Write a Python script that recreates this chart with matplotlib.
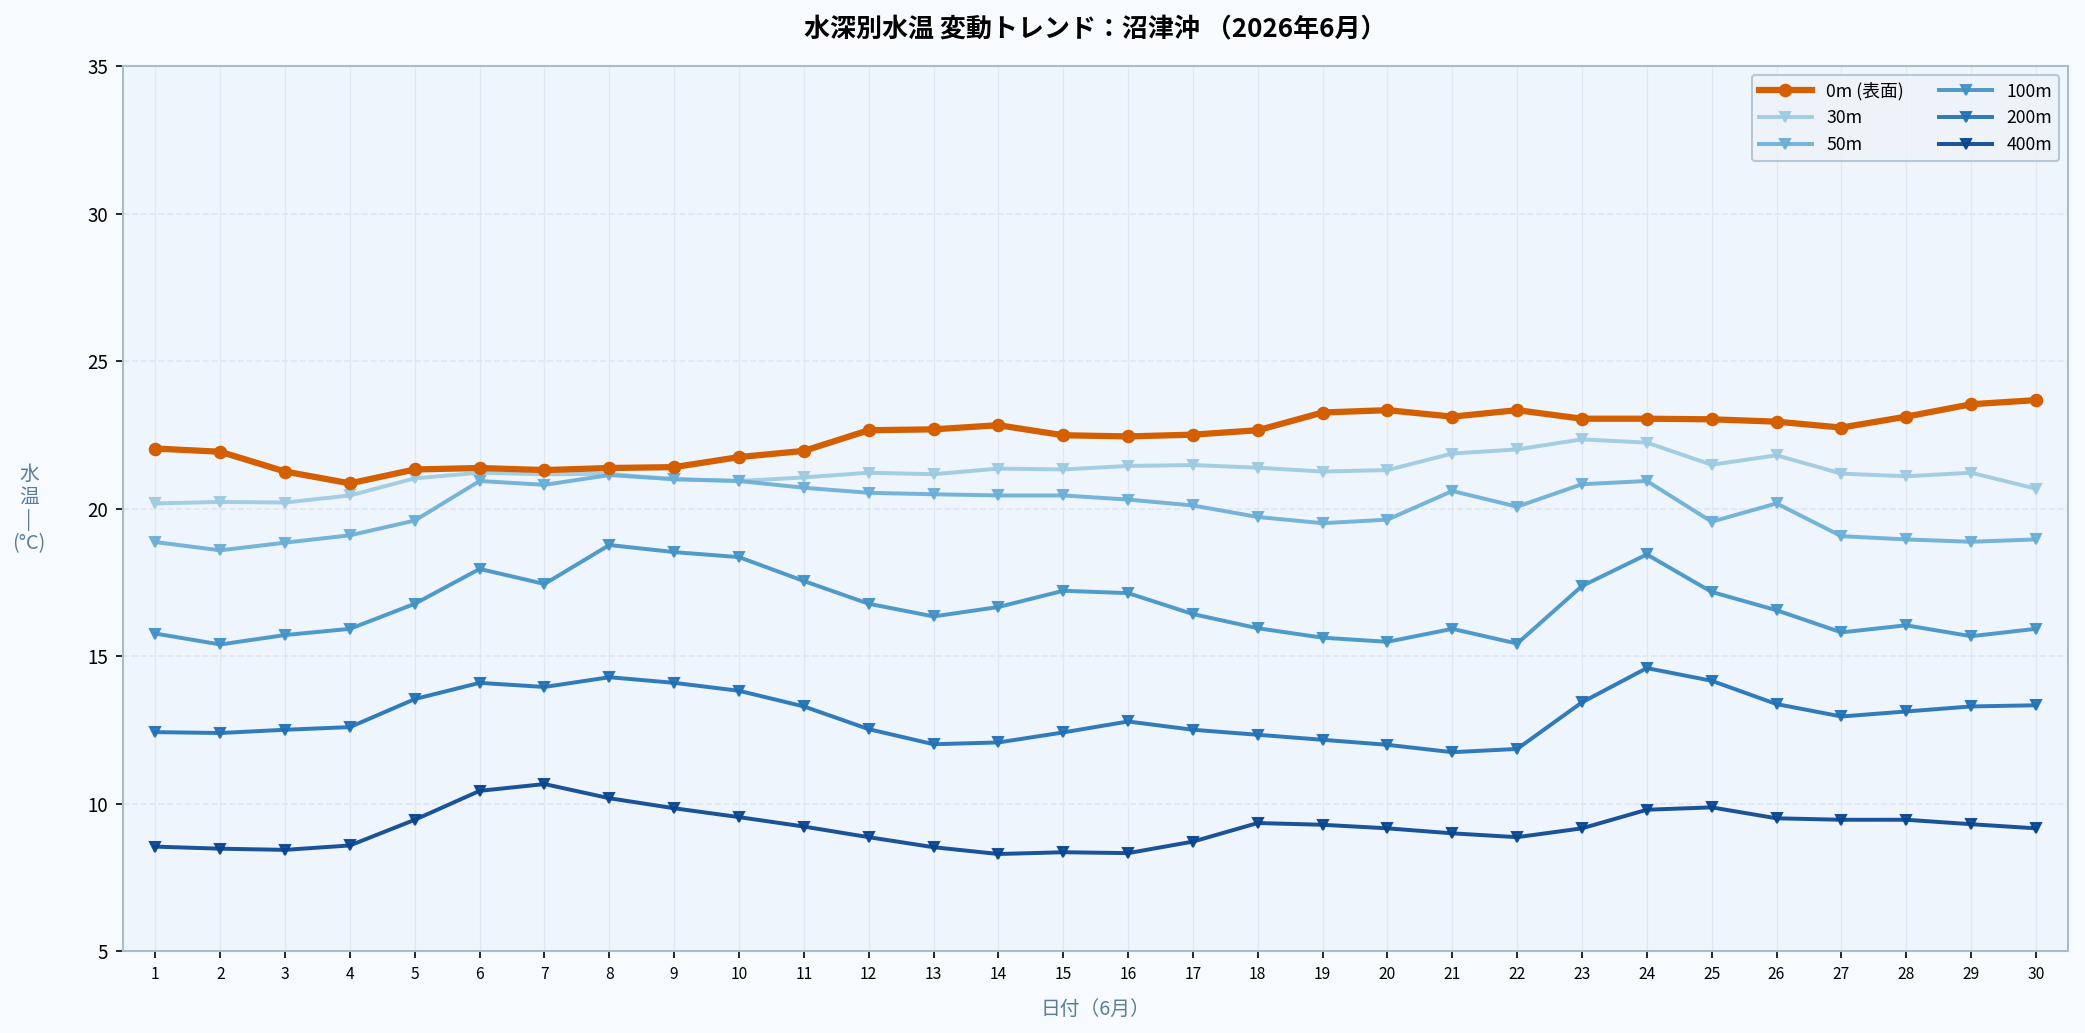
import numpy as np
import matplotlib
matplotlib.use("Agg")
import matplotlib.pyplot as plt

plt.rcParams['font.family'] = ['Noto Sans CJK JP', 'DejaVu Sans']

days = list(range(1, 31))

t_0m = [22.04, 21.93, 21.26, 20.86, 21.33, 21.38, 21.31, 21.38, 21.41, 21.75,
        21.96, 22.66, 22.69, 22.83, 22.49, 22.45, 22.51, 22.66, 23.26, 23.34,
        23.12, 23.34, 23.05, 23.05, 23.03, 22.95, 22.75, 23.12, 23.54, 23.68]
t_30m = [20.18, 20.23, 20.21, 20.45, 21.03, 21.22, 21.17, 21.18, 21.0, 20.94,
         21.06, 21.22, 21.17, 21.36, 21.33, 21.45, 21.48, 21.39, 21.26, 21.31,
         21.87, 22.01, 22.35, 22.24, 21.49, 21.81, 21.19, 21.10, 21.22, 20.68]
t_50m = [18.87, 18.59, 18.85, 19.10, 19.60, 20.94, 20.81, 21.14, 21.0, 20.94,
         20.71, 20.54, 20.49, 20.45, 20.45, 20.31, 20.11, 19.72, 19.51, 19.63,
         20.60, 20.07, 20.83, 20.94, 19.56, 20.18, 19.07, 18.96, 18.88, 18.96]
t_100m = [15.77, 15.40, 15.72, 15.93, 16.78, 17.96, 17.45, 18.77, 18.53, 18.36,
          17.55, 16.78, 16.35, 16.67, 17.22, 17.14, 16.43, 15.95, 15.63, 15.49,
          15.93, 15.43, 17.38, 18.45, 17.18, 16.56, 15.81, 16.05, 15.68, 15.93]
t_200m = [12.43, 12.40, 12.51, 12.60, 13.55, 14.10, 13.96, 14.29, 14.10, 13.83,
          13.30, 12.53, 12.02, 12.08, 12.42, 12.79, 12.51, 12.34, 12.17, 12.00,
          11.75, 11.86, 13.44, 14.60, 14.17, 13.38, 12.96, 13.13, 13.30, 13.34]
t_400m = [8.55, 8.48, 8.44, 8.59, 9.46, 10.44, 10.67, 10.19, 9.85, 9.55,
          9.23, 8.87, 8.53, 8.30, 8.36, 8.33, 8.72, 9.35, 9.29, 9.17,
          9.00, 8.87, 9.17, 9.80, 9.88, 9.51, 9.46, 9.46, 9.31, 9.17]

deep = [("30m", t_30m, "#9ecae1"),
        ("50m", t_50m, "#6baed6"),
        ("100m", t_100m, "#4292c6"),
        ("200m", t_200m, "#2171b5"),
        ("400m", t_400m, "#08458f")]

fig = plt.figure(figsize=(13.9, 6.887), dpi=150, facecolor="#f7fbff")
ax = fig.add_axes([0.059, 0.079, 0.933, 0.857])
ax.set_facecolor("#eff5fc")

ax.plot(days, t_0m, color="#d35f00", lw=3.0, marker="o", ms=5.5, label="0m (表面)", zorder=5)
for name, vals, col in deep:
    ax.plot(days, vals, color=col, lw=1.9, marker="v", ms=5, alpha=0.92, label=name, zorder=3)

ax.set_xlim(0.5, 30.5)
ax.set_ylim(5, 35)
ax.set_xticks(days)
ax.set_yticks([5, 10, 15, 20, 25, 30, 35])
ax.tick_params(axis="x", labelsize=7.5)
ax.tick_params(axis="y", labelsize=9)
ax.grid(axis="x", color="#e1e8f1", lw=0.6)
ax.grid(axis="y", color="#dde6f0", lw=0.8, ls="--")
ax.set_axisbelow(True)
for s in ax.spines.values():
    s.set_color("#a9bccd")
    s.set_linewidth(1.0)

ax.set_title("水深別水温 変動トレンド：沼津沖 （2026年6月）", fontsize=12.5, fontweight="bold", pad=14)
ax.set_xlabel("日付（6月）", fontsize=9.5, color="#5b7d9a", labelpad=8)
ax.set_ylabel("水\n温\n|\n(°C)", rotation=0, fontsize=9.5, color="#5b7d9a", labelpad=28, va="center", linespacing=1.1)

leg = ax.legend(loc="upper right", ncol=2, fontsize=8.5, frameon=True, facecolor="#eef3f9", edgecolor="#a9bccd",
                handlelength=3, columnspacing=2.0)
leg.get_frame().set_linewidth(1.0)

fig.savefig("out.png", dpi=150, facecolor=fig.get_facecolor())
